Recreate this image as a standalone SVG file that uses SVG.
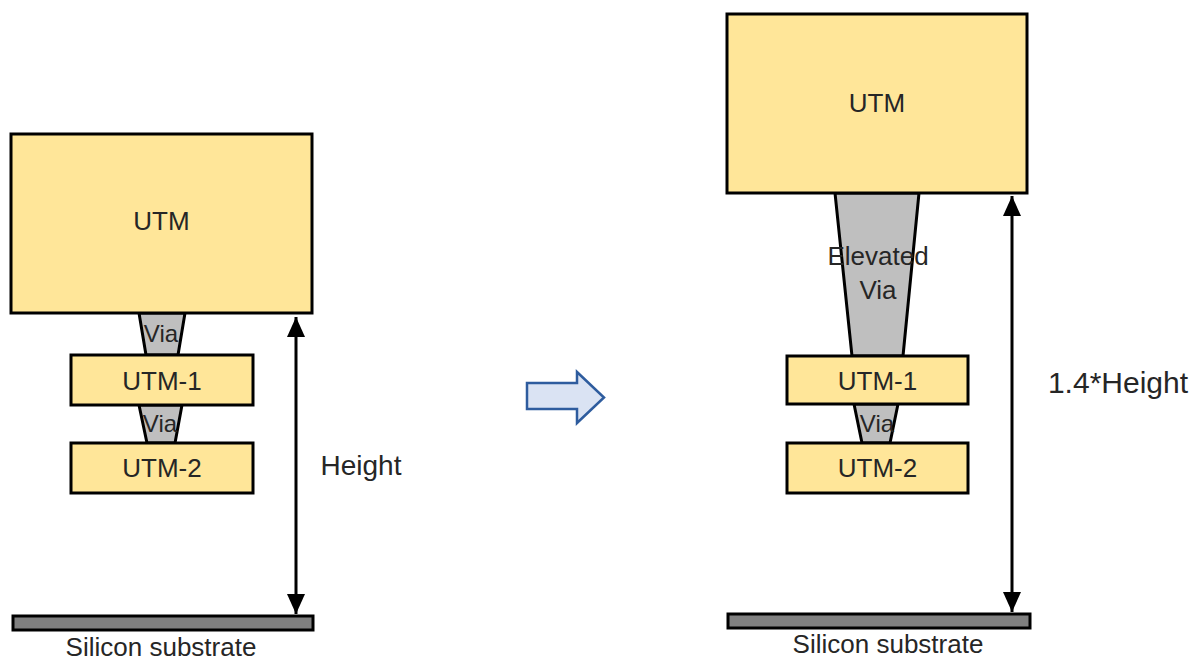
<svg xmlns="http://www.w3.org/2000/svg" width="1200" height="662" viewBox="0 0 1200 662">
<defs>
<style>
.metal{fill:#ffe699;stroke:#000;stroke-width:3}
.via{fill:#bfbfbf;stroke:#000;stroke-width:3;stroke-linejoin:miter}
.sub{fill:#808080;stroke:#000;stroke-width:3}
.dim{stroke:#000;stroke-width:3;fill:none}
text{font-family:"Liberation Sans",Arial,sans-serif;fill:#262626;text-anchor:middle}
.t26{font-size:26px}
.t24{font-size:24px}
</style>
<marker id="ah" viewBox="0 0 20 18" refX="20" refY="9" markerWidth="20" markerHeight="18" markerUnits="userSpaceOnUse" orient="auto-start-reverse">
<path d="M0,0 L20,9 L0,18 Z" fill="#000"/>
</marker>
</defs>
<rect width="1200" height="662" fill="#fff"/>

<!-- Left stack -->
<g id="left-via-top"><polygon class="via" points="139,313 185,313 178,355 146,355"/><text class="t24" x="161" y="342">Via</text></g>
<g id="left-via-bottom"><polygon class="via" points="139,405 182,405 175,443 147,443"/><text class="t24" x="160" y="432">Via</text></g>
<g id="left-utm"><rect class="metal" x="11" y="134" width="301" height="179"/><text class="t26" x="161.5" y="230">UTM</text></g>
<g id="left-utm1"><rect class="metal" x="71" y="355" width="182" height="50"/><text class="t26" x="162" y="390">UTM-1</text></g>
<g id="left-utm2"><rect class="metal" x="71" y="443" width="182" height="50"/><text class="t26" x="162" y="477">UTM-2</text></g>
<g id="left-substrate"><rect class="sub" x="13" y="616" width="300" height="14"/><text class="t26" x="161" y="656">Silicon substrate</text></g>
<g id="left-height-label"><text x="361" y="475" style="font-size:28px">Height</text></g>

<!-- Block arrow -->
<g id="transition-arrow"><polygon points="527,383 577,383 577,372 604,397.5 577,423 577,409 527,409 Z" fill="#dae3f3" stroke="#2e5c9e" stroke-width="2.5" stroke-linejoin="miter"/></g>

<!-- Right stack -->
<g id="right-elevated-via"><polygon class="via" points="835,193 919,193 903,356 852,356"/><text class="t26" x="878" y="265">Elevated</text><text class="t26" x="878" y="299">Via</text></g>
<g id="right-via-bottom"><polygon class="via" points="854,404 898,404 890,443 862,443"/><text class="t24" x="877" y="432">Via</text></g>
<g id="right-utm"><rect class="metal" x="727" y="14" width="300" height="179"/><text class="t26" x="877" y="112">UTM</text></g>
<g id="right-utm1"><rect class="metal" x="787" y="356" width="181" height="48"/><text class="t26" x="877.5" y="390">UTM-1</text></g>
<g id="right-utm2"><rect class="metal" x="787" y="443" width="181" height="50"/><text class="t26" x="877.5" y="477">UTM-2</text></g>
<g id="right-substrate"><rect class="sub" x="728" y="614" width="302" height="14"/><text class="t26" x="888" y="653">Silicon substrate</text></g>
<g id="right-height-label"><text x="1118" y="393" style="font-size:30px">1.4*Height</text></g>

<!-- Connectors -->
<g id="connectors">
<line class="dim" x1="296" y1="317" x2="296" y2="614" marker-start="url(#ah)" marker-end="url(#ah)"/>
<line class="dim" x1="1012" y1="196" x2="1012" y2="612" marker-start="url(#ah)" marker-end="url(#ah)"/>
</g>
</svg>
